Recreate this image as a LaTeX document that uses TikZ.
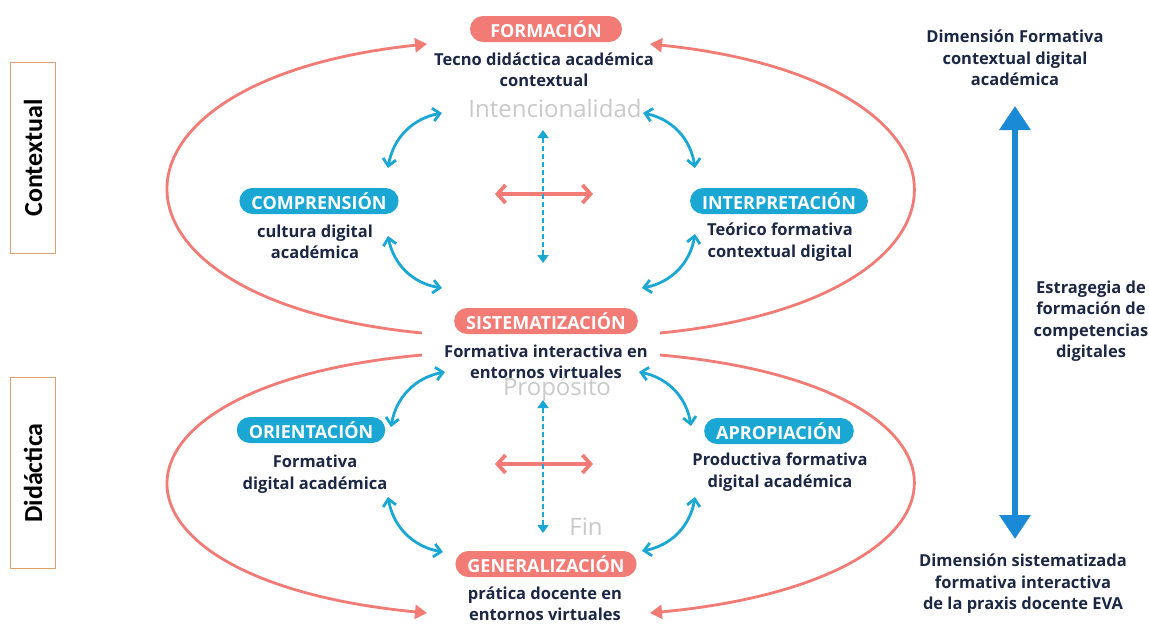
\documentclass[tikz,border=0pt]{standalone}
\usepackage{fontspec}
\setmainfont{Open Sans}
\newfontfamily\sidefont{Carlito}
\usepackage{tikz}
\usetikzlibrary{arrows.meta}

\definecolor{salmon}{HTML}{F27B76}
\definecolor{cyanb}{HTML}{1AA7D4}
\definecolor{navy}{HTML}{1C2744}
\definecolor{fog}{HTML}{C9C9C9}
\definecolor{deepblue}{HTML}{1B8AD6}
\definecolor{clay}{HTML}{E3A06E}

\tikzset{
    pill/.style={rounded corners=13pt, minimum height=26pt, inner xsep=12pt, inner ysep=0pt,
        text=white, font=\fontsize{18}{18}\selectfont\bfseries},
    redpill/.style={pill, fill=salmon},
    bluepill/.style={pill, fill=cyanb},
    desc/.style={align=center, text=navy, font=\fontsize{16.5}{21.5}\selectfont\bfseries, inner sep=0pt},
    ghost/.style={text=fog, font=\fontsize{24}{24}\selectfont, inner sep=0pt},
    sidebox/.style={draw=clay, line width=0.8pt, rotate=90, minimum width=191pt, minimum height=45pt,
        font=\sidefont\fontsize{26}{26}\selectfont\bfseries},
    bigloop/.style={salmon, line width=2.8pt, -{Triangle[length=12pt,width=14pt]}},
    link/.style={cyanb, line width=2.8pt, {Straight Barb[length=7pt,width=13pt]}-{Straight Barb[length=7pt,width=13pt]}},
    cross/.style={salmon, line width=3.8pt, {Straight Barb[length=8pt,width=18pt]}-{Straight Barb[length=8pt,width=18pt]}},
    axis/.style={cyanb, line width=1.8pt, dash pattern=on 5pt off 3pt, {Triangle[length=8pt,width=11pt]}-{Triangle[length=8pt,width=11pt]}},
}

\begin{document}
\begin{tikzpicture}[x=1pt, y=-1pt]
    \useasboundingbox (0, 0) rectangle (1149, 624);

    % side labels
    \node[sidebox] (ctx) at (33, 158) {Contextual};
    \node[sidebox] (did) at (33, 473) {Didáctica};

    % pills and their texts
    \node[redpill, minimum width=152pt] (form) at (546, 29) {FORMACIÓN};
    \node[desc] (formtxt) at (544, 70) {Tecno didáctica académica\\contextual};
    \node[bluepill] (comp) at (319, 201) {COMPRENSIÓN};
    \node[desc] (comptxt) at (315, 242) {cultura digital\\académica};
    \node[bluepill] (inter) at (779, 201) {INTERPRETACIÓN};
    \node[desc] (intertxt) at (780, 242) {Teórico formativa\\contextual digital};
    \node[redpill] (sist) at (546, 321) {SISTEMATIZACIÓN};
    \node[desc] (sisttxt) at (546, 362) {Formativa interactiva en\\entornos virtuales};
    \node[bluepill] (ori) at (311, 430) {ORIENTACIÓN};
    \node[desc] (oritxt) at (315, 474) {Formativa\\digital académica};
    \node[bluepill] (apro) at (779, 431) {APROPIACIÓN};
    \node[desc] (aprotxt) at (780, 472) {Productiva formativa\\digital académica};
    \node[redpill] (gen) at (546, 564) {GENERALIZACIÓN};
    \node[desc] (gentxt) at (545, 604) {prática docente en\\entornos virtuales};

    \node[ghost] (intenc) at (555, 108) {Intencionalidad};
    \node[ghost] (prop) at (557, 389) {Propósito};
    \node[ghost] (fin) at (586, 527) {Fin};

    % right column
    \node[desc] (dimtop) at (1015, 58) {Dimensión Formativa\\contextual digital\\académica};
    \node[desc] (estr) at (1091, 321) {Estragegia de\\formación de\\competencias\\digitales};
    \node[desc] (dimbot) at (1023, 584) {Dimensión sistematizada\\formativa interactiva\\de la praxis docente EVA};
    \coordinate (up) at (1015, 106);
    \coordinate (dn) at (1015, 539);
    \draw[deepblue, line width=6pt, {Triangle[length=24pt,width=30pt]}-{Triangle[length=24pt,width=30pt]}] (up) -- (dn);

    % big loops
    \coordinate (tl0) at (422, 333); \coordinate (tl1) at (427, 44);
    \coordinate (tr0) at (660, 333); \coordinate (tr1) at (650, 44);
    \coordinate (bl0) at (422, 355); \coordinate (bl1) at (427, 613);
    \coordinate (br0) at (660, 355); \coordinate (br1) at (650, 613);
    \draw[bigloop] (tl0) .. controls (83, 300) and (83, 80) .. (tl1);
    \draw[bigloop] (tr0) .. controls (999, 300) and (999, 80) .. (tr1);
    \draw[bigloop] (bl0) .. controls (83, 385) and (83, 580) .. (bl1);
    \draw[bigloop] (br0) .. controls (999, 385) and (999, 580) .. (br1);

    % small links
    \coordinate (a1) at (442, 113); \coordinate (a2) at (388, 168);
    \coordinate (a3) at (388, 236); \coordinate (a4) at (442, 288);
    \coordinate (a5) at (643, 113); \coordinate (a6) at (695, 168);
    \coordinate (a7) at (695, 234); \coordinate (a8) at (642, 288);
    \coordinate (b1) at (445, 372); \coordinate (b2) at (391, 427);
    \coordinate (b3) at (388, 497); \coordinate (b4) at (443, 552);
    \coordinate (b5) at (639, 372); \coordinate (b6) at (691, 426);
    \coordinate (b7) at (695, 497); \coordinate (b8) at (642, 551);
    \foreach \p/\q in {a1/a2, a3/a4, b1/b2, b3/b4}
        \draw[link] (\p) to[bend right=35] (\q);
    \foreach \p/\q in {a5/a6, a7/a8, b5/b6, b7/b8}
        \draw[link] (\p) to[bend left=35] (\q);

    % centre crosses
    \coordinate (v1) at (543, 130); \coordinate (v2) at (543, 263);
    \coordinate (v3) at (543, 400); \coordinate (v4) at (543, 533);
    \coordinate (h1) at (495, 194); \coordinate (h2) at (593, 194);
    \coordinate (h3) at (495, 464); \coordinate (h4) at (593, 464);
    \draw[cross] (h1) -- (h2);
    \draw[cross] (h3) -- (h4);
    \draw[axis] (v1) -- (v2);
    \draw[axis] (v3) -- (v4);
\end{tikzpicture}
\end{document}
